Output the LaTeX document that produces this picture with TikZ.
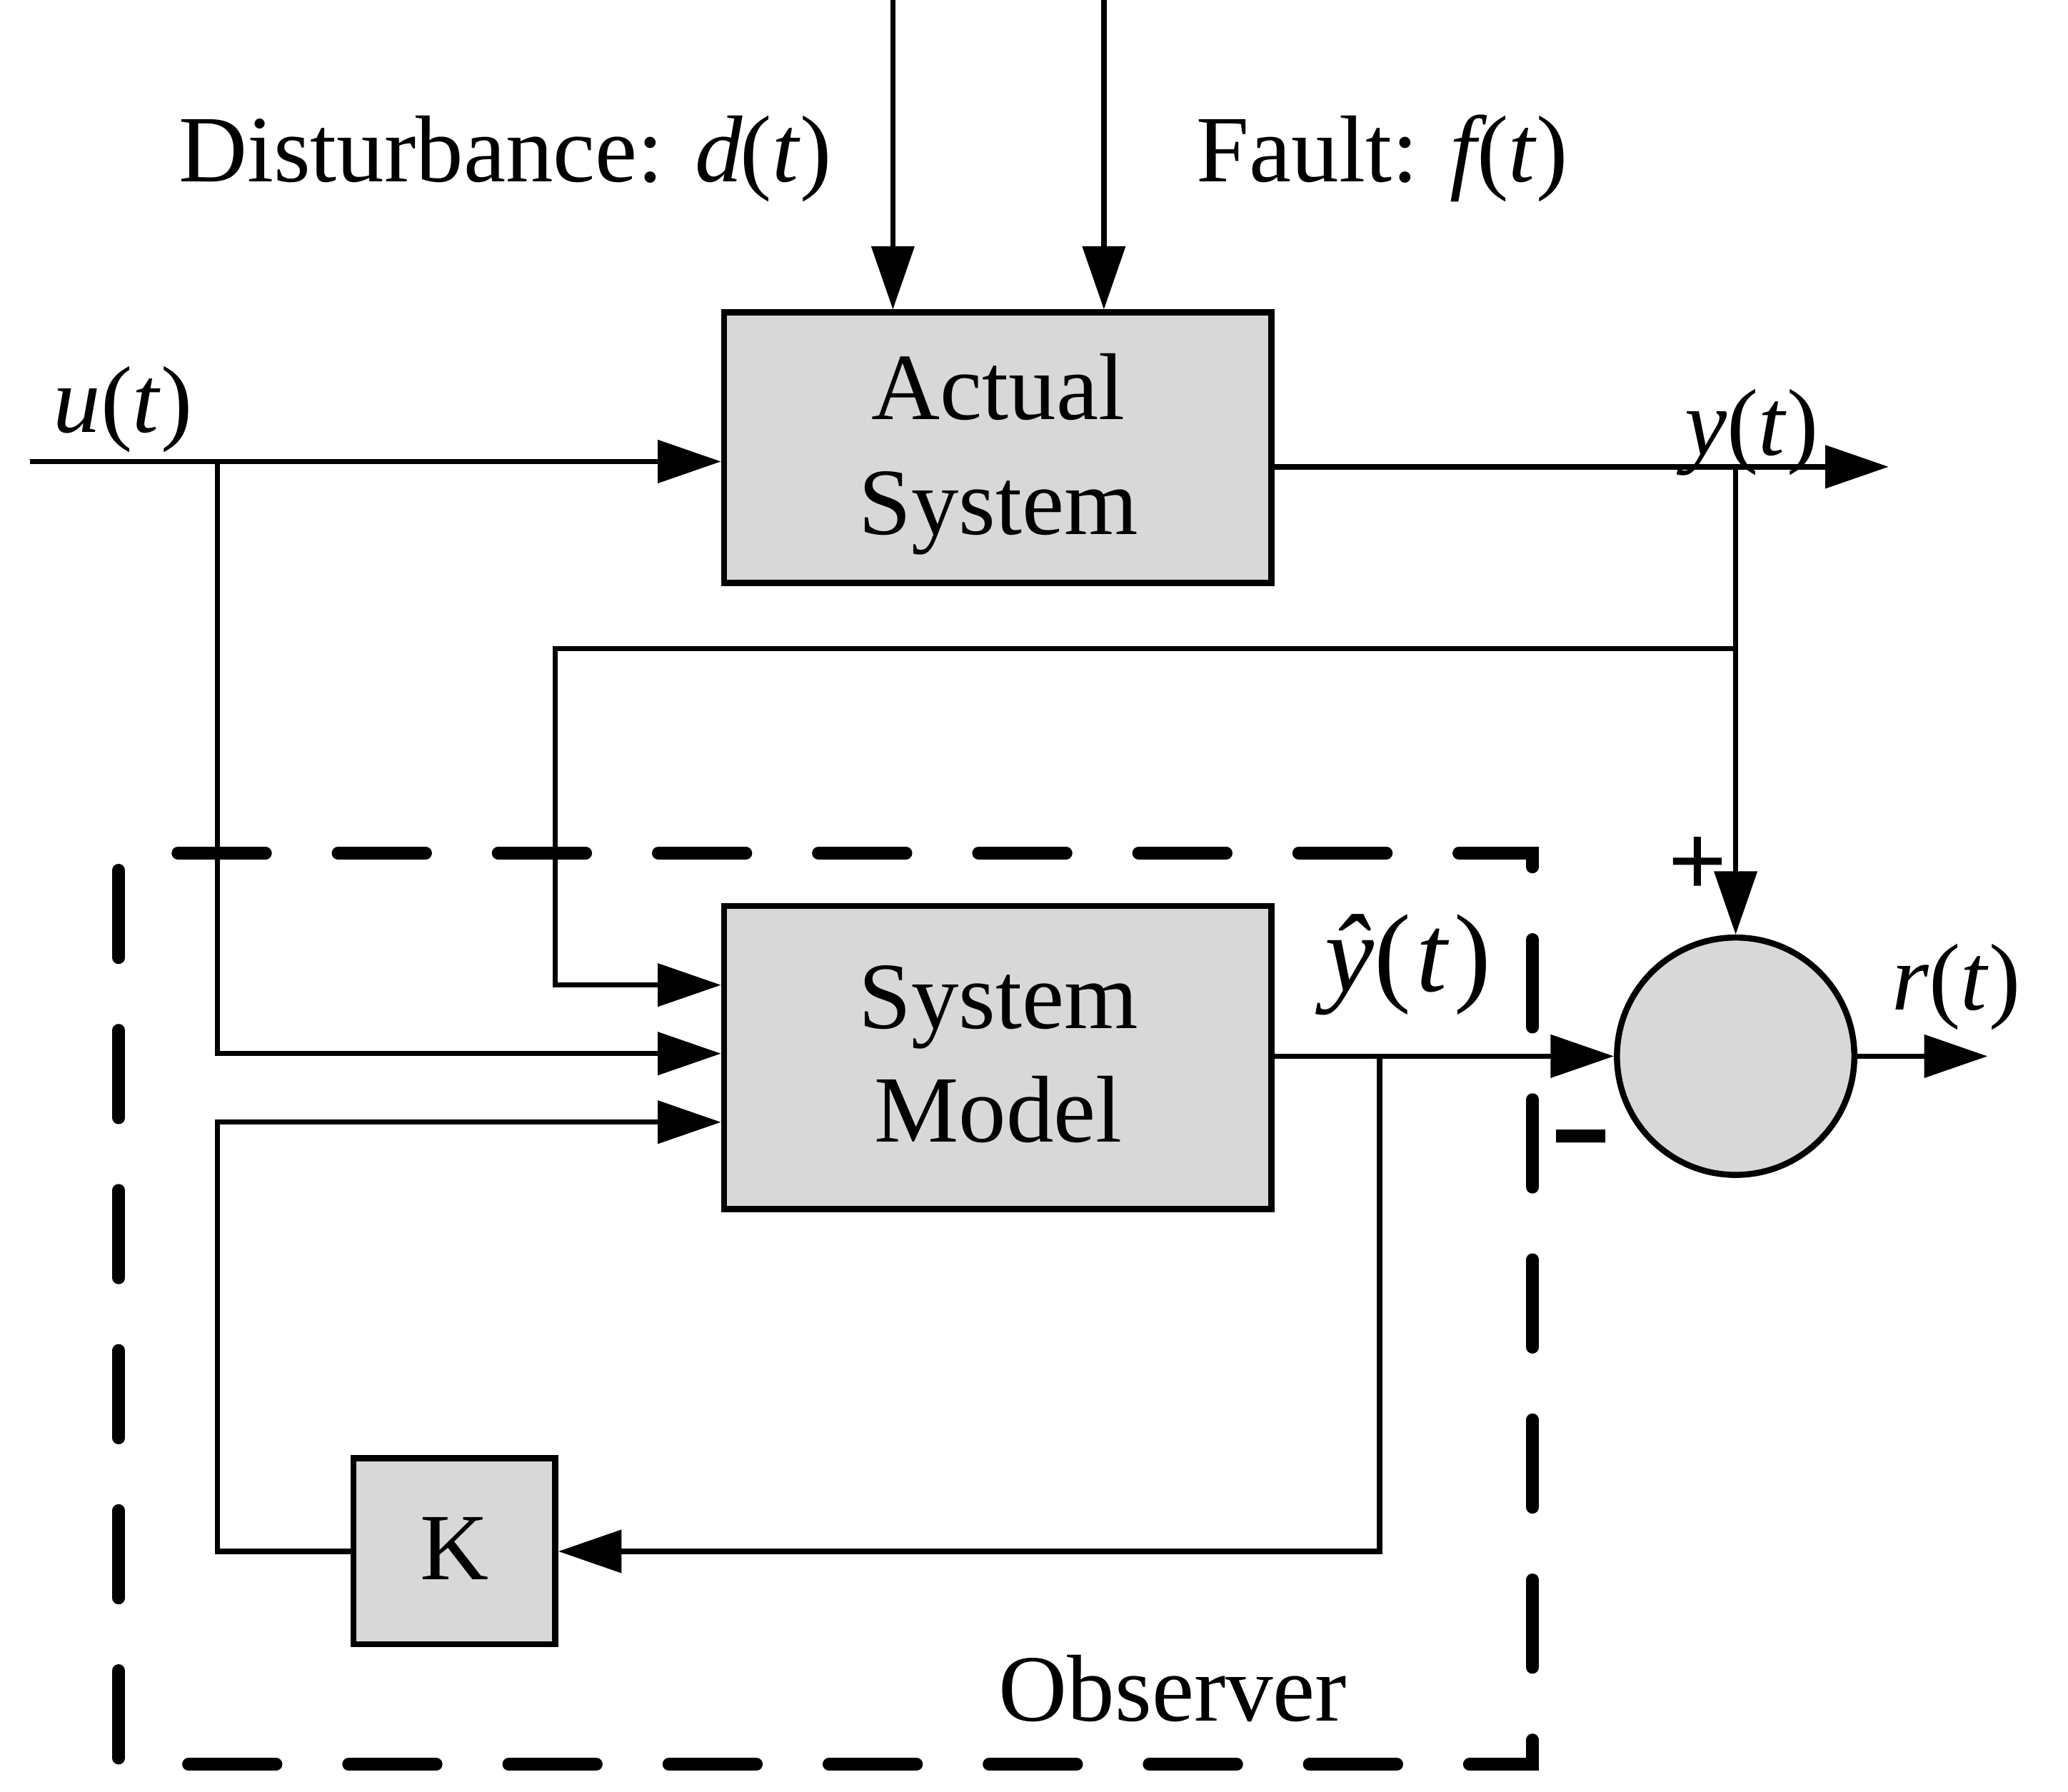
\documentclass[tikz,border=0pt]{standalone}
\usepackage{fontspec}
\usepackage{graphicx}
\setmainfont{Liberation Serif}
\newfontfamily\sansf{Liberation Sans}
\usetikzlibrary{arrows.meta}
\definecolor{boxgray}{RGB}{216,216,216}
\begin{document}
\begin{tikzpicture}[x=0.5pt,y=-0.5pt,
  conn/.style={line width=2pt},
  arr/.style={conn,-{Triangle[length=24pt,width=16pt]}},
  blk/.style={draw,line width=2.3pt,fill=boxgray,inner sep=0pt},
  txt/.style={inner sep=0pt,anchor=base,font=\fontsize{36pt}{44pt}\selectfont},
  lbl/.style={inner sep=0pt,anchor=base west,font=\fontsize{36pt}{44pt}\selectfont},
  obs/.style={line width=4.8pt,line cap=round,dash pattern=on 33.2pt off 27.5pt}]
\useasboundingbox (0,0) rectangle (1568,1359);

% observer frame
\draw[obs] (134.9,647) -- (1162,647) -- (1162,1338) -- (130,1338);
\draw[obs] (90,659.9) -- (90,1338);

% blocks
\node[blk,minimum width=207.5pt,minimum height=102.5pt] (AS) at (756.5,339.5) {};
\node[blk,minimum width=207.5pt,minimum height=115pt] (SM) at (756.5,802) {};
\node[blk,minimum width=76.5pt,minimum height=70.5pt] (K) at (344.5,1176.5) {};
\node[blk,circle,minimum size=90pt] (sum) at (1316,801) {};

\node[txt] (ASa) at (757,318) {Actual};
\node[txt] (ASb) at (757,405) {System};
\node[txt] (SMa) at (757,780) {System};
\node[txt] (SMb) at (757,866) {Model};
\node[txt] (Kt) at (344.5,1198) {K};

% coordinates
\coordinate (d0) at (677,0);
\coordinate (f0) at (837,0);
\coordinate (uin) at (23,350);
\coordinate (ub) at (165,350);
\coordinate (yo) at (1432,354);
\coordinate (yb) at (1316,354);
\coordinate (yc) at (1316,492);
\coordinate (fb) at (421,492);
\coordinate (yh) at (1046,801);
\coordinate (kb) at (165,1176.5);
\coordinate (ro) at (1507,805);

% connectors
\draw[arr] (d0) -- (d0 |- AS.north);
\draw[arr] (f0) -- (f0 |- AS.north);
\draw[arr] (uin) -- (uin -| AS.west);
\draw[arr] (ub) |- (SM.west |- 0,799);
\draw[arr] (yo -| AS.east) -- (yo);
\draw[arr] (yb) -- (sum.north);
\draw[arr] (yc) -- (fb) |- (SM.west |- 0,747);
\draw[arr] (SM.east |- sum) -- (sum.west);
\draw[arr] (yh) |- (K.east);
\draw[arr] (K.west) -- (kb) |- (SM.west |- 0,851);
\draw[arr] (sum.east) -- (sum.east -| ro);

% labels
\node[lbl] (dl) at (135,138) {Disturbance: \textit{d}\kern-1pt(\textit{t})};
\node[lbl] (fl) at (907,138) {Fault: \textit{f}\kern-4pt(\textit{t})};
\node[lbl] (ul) at (40,328) {\textit{u}(\textit{t})};
\node[lbl] (yl) at (1277,345) {\textit{y}(\textit{t})};
\node[lbl,font=\fontsize{42pt}{48pt}\selectfont] (yhl) at (1004,752) {\textit{\^y}(\kern2pt\textit{t}\kern2pt)};
\node[lbl] (rl) at (1434,766) {\textit{r}(\textit{t})};
\node[lbl] (ol) at (757,1305) {Observer};
\node[inner sep=0pt,font=\sansf\fontsize{38pt}{40pt}\selectfont] (plus) at (1287,657) {+};
\node[inner sep=0pt,anchor=base,font=\sansf\fontsize{30.6pt}{32pt}\selectfont] (minus) at (1199,899) {\scalebox{1.1}[2.4]{–}};
\end{tikzpicture}
\end{document}
